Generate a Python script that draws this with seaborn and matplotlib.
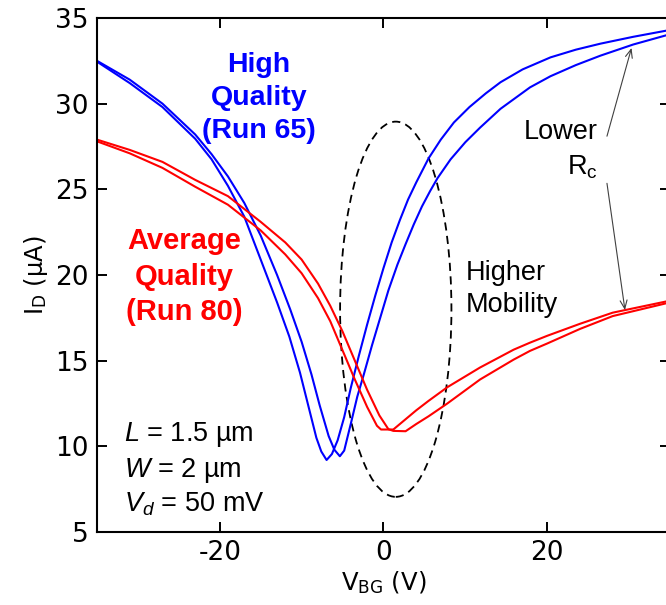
import matplotlib
matplotlib.use("Agg")
import matplotlib.pyplot as plt
from matplotlib.patches import Ellipse
import numpy as np
import pandas as pd
import seaborn as sns

# Transfer curves I_D(V_BG), two gate sweeps per device
hq_sweep1_vbg = [-35.0, -31.0, -27.0, -23.0, -21.0, -19.0, -17.0, -15.0, -13.0, -11.5,
                 -10.2, -9.2, -8.2, -7.6, -6.95, -6.3, -5.6, -4.8, -4.0, -3.0,
                 -2.0, -1.0, 0.0, 1.0, 2.0, 3.0, 4.0, 5.5, 7.0, 8.6,
                 10.5, 12.5, 14.3, 17.0, 20.4, 23.5, 26.5, 30.5, 35.0]
hq_sweep1_id = [32.45, 31.2, 29.8, 27.95, 26.75, 25.2, 23.4, 20.9, 18.4, 16.4,
                14.3, 12.4, 10.5, 9.7, 9.2, 9.55, 10.35, 11.7, 13.4, 15.3,
                17.1, 18.8, 20.4, 21.9, 23.2, 24.4, 25.4, 26.8, 27.9, 28.9,
                29.8, 30.6, 31.25, 32.0, 32.7, 33.15, 33.5, 33.9, 34.3]

hq_sweep2_vbg = [-35.0, -31.0, -27.0, -23.0, -21.0, -19.0, -17.0, -15.0, -13.0, -11.4,
                 -10.0, -8.8, -7.8, -6.7, -6.0, -5.33, -4.8, -4.0, -3.2, -2.4,
                 -1.4, -0.4, 0.6, 1.7, 2.7, 3.7, 4.7, 5.7, 6.6, 8.2,
                 10.0, 11.8, 14.3, 17.9, 20.4, 23.5, 26.5, 30.5, 35.0]
hq_sweep2_id = [32.5, 31.4, 30.0, 28.2, 27.05, 25.75, 24.2, 22.3, 20.0, 18.0,
                16.1, 14.2, 12.4, 10.6, 9.8, 9.42, 9.75, 11.3, 12.9, 14.2,
                15.9, 17.5, 19.1, 20.6, 21.8, 22.95, 24.0, 24.9, 25.65, 26.75,
                27.75, 28.6, 29.7, 30.95, 31.6, 32.25, 32.8, 33.45, 34.05]

avg_sweep1_vbg = [-35.0, -31.0, -27.0, -23.0, -19.0, -15.0, -12.0, -10.0, -8.0, -6.5,
                  -5.0, -3.5, -2.0, -0.8, -0.3, 1.2, 2.5, 4.0, 5.5, 7.8,
                  11.8, 15.9, 17.9, 20.0, 24.0, 28.0, 35.0]
avg_sweep1_id = [27.8, 27.1, 26.25, 25.15, 24.1, 22.6, 21.2, 20.1, 18.65, 17.3,
                 15.6, 13.9, 12.3, 11.2, 10.98, 10.98, 11.5, 12.1, 12.65, 13.45,
                 14.6, 15.64, 16.05, 16.45, 17.15, 17.8, 18.5]

avg_sweep2_vbg = [-35.0, -31.0, -27.0, -23.0, -19.0, -15.0, -12.0, -10.0, -8.0, -6.5,
                  -5.0, -3.5, -2.0, -0.5, 0.6, 1.2, 2.7, 4.0, 5.5, 7.8,
                  11.8, 15.9, 17.9, 20.0, 24.0, 28.0, 35.0]
avg_sweep2_id = [27.9, 27.3, 26.6, 25.55, 24.6, 23.1, 21.9, 20.9, 19.5, 18.2,
                 16.7, 15.0, 13.3, 11.8, 11.0, 10.9, 10.88, 11.3, 11.75, 12.5,
                 13.9, 15.06, 15.57, 16.0, 16.85, 17.6, 18.4]

frames = []
for sample, sweep, xs, ys in [
    ("high", 1, hq_sweep1_vbg, hq_sweep1_id),
    ("high", 2, hq_sweep2_vbg, hq_sweep2_id),
    ("average", 1, avg_sweep1_vbg, avg_sweep1_id),
    ("average", 2, avg_sweep2_vbg, avg_sweep2_id),
]:
    frames.append(pd.DataFrame({"vbg": xs, "id": ys, "sample": sample,
                                "run": f"{sample}-{sweep}"}))
df = pd.concat(frames, ignore_index=True)

sns.set_style("ticks")
plt.rcParams["font.family"] = ["DejaVu Sans"]
plt.rcParams["axes.unicode_minus"] = False
plt.rcParams["text.color"] = "black"
plt.rcParams["axes.labelcolor"] = "black"
plt.rcParams["mathtext.fontset"] = "custom"
plt.rcParams["mathtext.rm"] = "Liberation Sans"
plt.rcParams["mathtext.it"] = "Liberation Sans:italic"

fig = plt.figure(figsize=(6.66, 6.05), dpi=100)
ax = fig.add_axes([0.1456, 0.1207, 0.8604, 0.8496])

sns.lineplot(data=df, x="vbg", y="id", hue="sample", units="run", estimator=None,
             sort=False, palette={"high": "#0000ff", "average": "#ff0000"},
             linewidth=1.5, legend=False, ax=ax)

ax.set_xlim(-35, 35)
ax.set_ylim(5, 35)
ax.set_xticks([-20, 0, 20])
ax.set_yticks([5, 10, 15, 20, 25, 30, 35])
ax.tick_params(direction="in", length=7, width=1.4, labelsize=19,
               top=True, right=True, pad=6, colors="black")
for s in ax.spines.values():
    s.set_linewidth(1.5)
    s.set_color("black")

ax.set_xlabel(r"V$_\mathregular{BG}$ (V)", fontsize=17.5, labelpad=2)
ax.set_ylabel(r"I$_\mathregular{D}$ ($\mathregular{\mu}$A)", fontsize=17.5, labelpad=4)

# region of steeper slope near the Dirac point
ax.add_patch(Ellipse((1.5, 18.0), 13.6, 21.9, fill=False, edgecolor="black",
                     linewidth=1.3, linestyle=(0, (4.5, 3))))

ann_font = ["Liberation Sans", "DejaVu Sans"]
ax.text(-15.2, 30.3, "High\nQuality\n(Run 65)", color="#0000ff", fontsize=20.5,
        fontweight="bold", ha="center", va="center", family=ann_font, linespacing=1.35)
ax.text(-24.3, 19.9, "Average\nQuality\n(Run 80)", color="#ff0000", fontsize=21,
        fontweight="bold", ha="center", va="center", family=ann_font, linespacing=1.35)
ax.text(10.0, 19.2, "Higher\nMobility", fontsize=19.5, ha="left", va="center",
        family=ann_font, linespacing=1.3)
ax.text(26.2, 27.3, "Lower\nR$_\\mathregular{c}$", fontsize=19.5, ha="right", va="center",
        family=ann_font, linespacing=1.4)
ax.text(-31.7, 8.65, "$\\mathit{L}$ = 1.5 µm\n$\\mathit{W}$ = 2 µm\n$\\mathit{V_d}$ = 50 mV",
        fontsize=19.5, ha="left", va="center", family=ann_font, linespacing=1.3)

arrow = dict(arrowstyle="->,head_length=0.6,head_width=0.25", color="#404040",
             linewidth=0.8, shrinkA=0, shrinkB=0)
ax.annotate("", xy=(30.3, 33.25), xytext=(27.3, 28.1), arrowprops=arrow)
ax.annotate("", xy=(29.5, 17.95), xytext=(27.3, 25.35), arrowprops=arrow)

fig.savefig("out.png", dpi=100)
